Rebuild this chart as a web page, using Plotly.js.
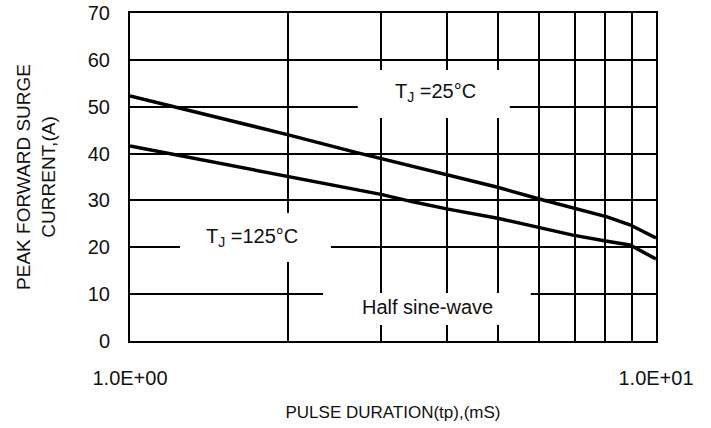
<!DOCTYPE html>
<html>
<head>
<meta charset="utf-8">
<script src="https://cdn.plot.ly/plotly-3.0.1.min.js"></script>
<style>html,body{margin:0;padding:0;background:#fff;}#chart{width:711px;height:428px;}</style>
</head>
<body>
<div id="chart"></div>
<script>
// Pulse duration (ms) and peak forward surge current (A)
const x25 = [1, 2, 2.7, 3.45, 4, 5, 6, 6.95, 8.07, 8.92, 10];
const y25 = [52.3, 44.0, 40.2, 37.3, 35.6, 32.8, 30.3, 28.4, 26.5, 24.8, 22.0];
const x125 = [1, 1.64, 2, 3, 3.45, 4, 5, 6, 6.95, 8.07, 8.92, 10];
const y125 = [41.6, 36.9, 35.0, 31.3, 29.7, 28.2, 26.2, 24.3, 22.6, 21.3, 20.5, 17.5];
const xTickVals = [1, 10];
const xTickText = ["1.0E+00", "1.0E+01"];
const xMinorVals = [2, 3, 4, 5, 6, 7, 8, 9];
const yTickVals = [0, 10, 20, 30, 40, 50, 60, 70];
const labels = ["T<sub>J</sub> =25°C", "T<sub>J</sub> =125°C", "Half sine-wave"];

const lineStyle = {color: "#000", width: 3.5};
const traces = [
  {x: x25, y: y25, mode: "lines", line: lineStyle, hoverinfo: "skip", name: "25"},
  {x: x125, y: y125, mode: "lines", line: lineStyle, hoverinfo: "skip", name: "125"}
];

const font = "Liberation Sans, Arial, sans-serif";
const box = (x0, x1, y0, y1) => ({type: "rect", xref: "paper", yref: "paper", x0, x1, y0, y1,
  fillcolor: "#fff", line: {width: 0}, layer: "above"});
const ann = (text, x, y) => ({text, x, y, xref: "paper", yref: "paper", showarrow: false,
  xanchor: "center", yanchor: "middle", font: {family: font, size: 20, color: "#111"}});

const layout = {
  width: 711, height: 428,
  margin: {l: 130, r: 55, t: 13, b: 87},
  paper_bgcolor: "#fff", plot_bgcolor: "#fff",
  showlegend: false,
  font: {family: font, color: "#111"},
  xaxis: {
    type: "log", range: [0, 1],
    tickvals: xTickVals, ticktext: xTickText,
    tickfont: {size: 20, family: font, color: "#111"},
    ticks: "", ticklabelstandoff: 18,
    showgrid: true, gridcolor: "#000", gridwidth: 2,
    minor: {tickvals: xMinorVals, showgrid: true, gridcolor: "#000", gridwidth: 2, ticks: ""},
    showline: true, linecolor: "#000", linewidth: 2, mirror: true,
    zeroline: false,
    title: {text: "PULSE DURATION(tp),(mS)", font: {size: 17, family: font, color: "#111"}, standoff: 18}
  },
  yaxis: {
    range: [0, 70],
    tickvals: yTickVals,
    tickfont: {size: 20, family: font, color: "#111"},
    ticks: "", ticklabelstandoff: 14,
    showgrid: true, gridcolor: "#000", gridwidth: 2,
    showline: true, linecolor: "#000", linewidth: 2, mirror: true,
    zeroline: false,
    title: {text: "PEAK FORWARD SURGE<br>CURRENT,(A)", font: {size: 19, family: font, color: "#111"}, standoff: 27}
  },
  shapes: [
    box(0.433, 0.722, 0.680, 0.826),
    box(0.095, 0.382, 0.241, 0.390),
    box(0.367, 0.762, 0.049, 0.146)
  ],
  annotations: [
    ann(labels[0], 0.580, 0.759),
    ann(labels[1], 0.231, 0.317),
    ann(labels[2], 0.566, 0.104)
  ]
};

Plotly.newPlot("chart", traces, layout, {staticPlot: true, displayModeBar: false});
</script>
</body>
</html>
